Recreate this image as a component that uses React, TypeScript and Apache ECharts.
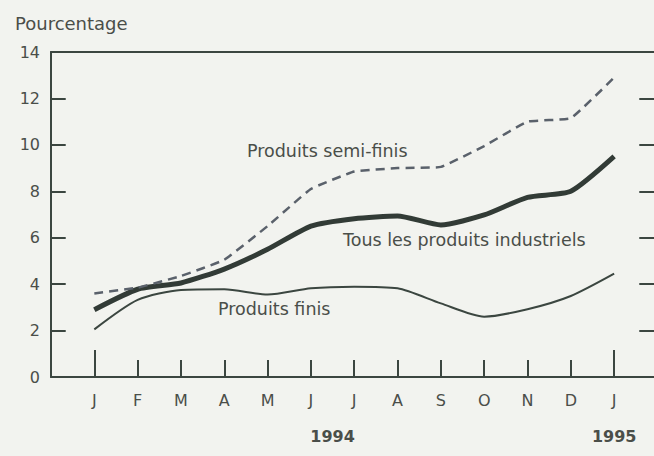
import React, { useEffect, useRef } from "react";
import * as echarts from "echarts";

const months = ["J", "F", "M", "A", "M", "J", "J", "A", "S", "O", "N", "D", "J"];
const semiFinis = [3.6, 3.85, 4.35, 5.05, 6.5, 8.1, 8.85, 9.0, 9.05, 9.95, 11.0, 11.15, 12.9];
const tousProduits = [2.9, 3.78, 4.05, 4.65, 5.5, 6.5, 6.82, 6.94, 6.55, 6.98, 7.74, 8.0, 9.5];
const produitsFinis = [2.05, 3.32, 3.75, 3.78, 3.55, 3.82, 3.89, 3.82, 3.17, 2.6, 2.92, 3.49, 4.45];
const yTicks = [2, 4, 6, 8, 10, 12];
const yearLabels = ["1994", "1995"];
const yearPositions = [5.5, 12];
const januaryTicks = [0, 12];

const X_MIN = -1;
const X_MAX = 12.92;
const INK = "#3b4640";
const TEXT = "#4a4e49";
const FONT = "DejaVu Sans";

export default function App() {
  const ref = useRef<HTMLDivElement>(null);
  useEffect(() => {
    if (!ref.current) return;
    const chart = echarts.init(ref.current, null, { renderer: "svg" });
    const idx = months.map((_, i) => i);
    const toPairs = (arr: number[]) => arr.map((v, i) => [idx[i], v]);
    const xBase = { type: "value", min: X_MIN, max: X_MAX, interval: 1, splitLine: { show: false } };
    // y-axis tick marks (inside, on both sides), expressed in data units
    const tickSpan = 0.34;
    const yTickLines: any[] = [];
    yTicks.forEach((v) => {
      yTickLines.push([{ coord: [X_MIN, v] }, { coord: [X_MIN + tickSpan, v] }]);
      yTickLines.push([{ coord: [X_MAX - tickSpan, v] }, { coord: [X_MAX, v] }]);
    });
    chart.setOption({
      animation: false,
      backgroundColor: "#f2f3ef",
      textStyle: { fontFamily: FONT },
      title: {
        text: "Pourcentage",
        left: 10,
        top: 9,
        textStyle: { fontFamily: FONT, fontSize: 18, fontWeight: "normal", color: TEXT },
      },
      grid: { left: 51, top: 52, right: 0, bottom: 79 },
      xAxis: [
        {
          ...xBase,
          position: "bottom",
          axisLine: { show: true, onZero: false, lineStyle: { color: INK, width: 2 } },
          axisTick: {
            show: true,
            inside: true,
            length: 17,
            customValues: idx.slice(1, 12),
            lineStyle: { color: INK, width: 2 },
          },
          axisLabel: {
            show: true,
            customValues: idx,
            margin: 15,
            fontSize: 16,
            color: TEXT,
            fontFamily: FONT,
            formatter: (v: number) => months[Math.round(v)] ?? "",
          },
        },
        {
          ...xBase,
          position: "bottom",
          axisLine: { show: false, onZero: false },
          axisTick: {
            show: true,
            inside: true,
            length: 27,
            customValues: januaryTicks,
            lineStyle: { color: INK, width: 2 },
          },
          axisLabel: {
            show: true,
            customValues: yearPositions,
            margin: 51,
            fontSize: 16,
            fontWeight: "bold",
            color: TEXT,
            fontFamily: FONT,
            formatter: (v: number) => yearLabels[yearPositions.indexOf(v)] ?? "",
          },
        },
        {
          ...xBase,
          position: "top",
          axisLine: { show: true, onZero: false, lineStyle: { color: INK, width: 2 } },
          axisTick: { show: false },
          axisLabel: { show: false },
        },
      ],
      yAxis: [
        {
          type: "value",
          min: 0,
          max: 14,
          interval: 2,
          position: "left",
          axisLine: { show: true, onZero: false, lineStyle: { color: INK, width: 2 } },
          axisTick: { show: false },
          splitLine: { show: false },
          axisLabel: { margin: 11, fontSize: 16, color: TEXT, fontFamily: FONT },
        },
      ],
      series: [
        {
          name: "Produits finis",
          type: "line",
          data: toPairs(produitsFinis),
          smooth: 0.25,
          symbol: "none",
          lineStyle: { color: INK, width: 2 },
          markLine: {
            silent: true,
            symbol: "none",
            label: { show: false },
            emphasis: { disabled: true },
            lineStyle: { color: INK, width: 2, type: "solid" },
            data: yTickLines,
          },
        },
        {
          name: "Tous les produits industriels",
          type: "line",
          data: toPairs(tousProduits),
          smooth: 0.2,
          symbol: "none",
          lineStyle: { color: "#323b36", width: 5 },
        },
        {
          name: "Produits semi-finis",
          type: "line",
          data: toPairs(semiFinis),
          smooth: 0.1,
          symbol: "none",
          lineStyle: { color: "#5a616b", width: 2.5, type: [9, 6] },
        },
      ],
      graphic: [
        {
          type: "text",
          left: 247,
          top: 142,
          style: { text: "Produits semi-finis", fontSize: 17.5, fill: TEXT, fontFamily: FONT },
        },
        {
          type: "text",
          left: 343,
          top: 231,
          style: { text: "Tous les produits industriels", fontSize: 17.5, fill: TEXT, fontFamily: FONT },
        },
        {
          type: "text",
          left: 218,
          top: 300,
          style: { text: "Produits finis", fontSize: 17.5, fill: TEXT, fontFamily: FONT },
        },
      ],
    });
    return () => chart.dispose();
  }, []);
  return (
    <div
      ref={ref}
      style={{ position: "absolute", left: 0, top: 0, width: 654, height: 456 }}
    />
  );
}
